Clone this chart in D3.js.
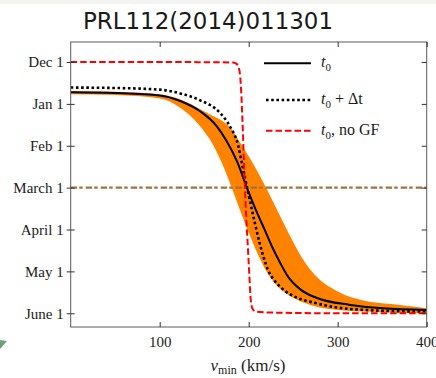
<!DOCTYPE html>
<html lang="en">
<head>
  <meta charset="UTF-8" />
  <title>PRL112(2014)011301</title>
  <script src="https://d3js.org/d3.v7.min.js"></script>
  <style>
    html, body {
      margin: 0;
      padding: 0;
      background: white;
    }
    svg {
      display: block;
    }
    .tick text {
      font-family: 'Liberation Serif', 'Times New Roman', serif;
      font-size: 15px;
      fill: #1c1c1c;
    }
    .domain {
      display: none;
    }
  </style>
</head>
<body>
  <svg id="chart" width="436" height="378"></svg>
  <script>
    // month ticks on the y axis (index 0 = Dec 1 ... 6 = June 1)
    const monthLabels = ['Dec 1', 'Jan 1', 'Feb 1', 'March 1', 'April 1', 'May 1', 'June 1'];
    const xTicks = [100, 200, 300, 400];
    const marchIndex = 3;

    // t0 (solid black)
    const t0V = [0, 50, 100, 123, 145, 164, 175, 187, 199, 208, 218, 226, 235, 244, 258, 276, 314, 351, 400];
    const t0M = [0.72, 0.74, 0.80, 0.93, 1.17, 1.53, 1.88, 2.38, 3.06, 3.53, 4.01, 4.40, 4.78, 5.12, 5.43, 5.63, 5.80, 5.88, 5.92];

    // t0 + dt (dotted black)
    const dtV = [0, 50, 100, 123, 145, 168, 179, 188, 193, 200, 207, 212, 217, 222, 229, 237, 258, 274, 295, 351, 400];
    const dtM = [0.61, 0.62, 0.66, 0.75, 0.91, 1.22, 1.54, 1.98, 2.48, 3.18, 3.85, 4.30, 4.68, 4.98, 5.22, 5.40, 5.66, 5.75, 5.85, 5.94, 5.96];

    // t0, no GF (red dashed)
    const noGfV = [0, 100, 182, 186, 189, 191, 193, 195, 197, 199, 200.5, 202, 204, 208, 220, 300, 400];
    const noGfM = [0.0, 0.0, 0.01, 0.04, 0.15, 0.5, 1.4, 2.6, 3.6, 4.4, 5.0, 5.6, 5.88, 5.96, 5.98, 6.0, 6.0];

    // orange band
    const bandV  = [0, 50, 100, 125, 145, 160, 170, 180, 190, 200, 210, 220, 230, 240, 250, 260, 275, 300, 330, 360, 400];
    const bandHi = [0.69, 0.71, 0.77, 0.91, 1.12, 1.29, 1.40, 1.58, 1.91, 2.25, 2.62, 3.02, 3.45, 3.88, 4.30, 4.68, 5.10, 5.48, 5.70, 5.78, 5.88];
    const bandLo = [0.77, 0.79, 0.87, 1.12, 1.52, 1.98, 2.42, 2.95, 3.52, 4.07, 4.58, 5.00, 5.30, 5.50, 5.63, 5.73, 5.84, 5.92, 5.96, 5.98, 6.0];

    const legendLabels = [
      { rest: '', style: 'solid' },
      { rest: ' + \u0394t', style: 'dotted' },
      { rest: ', no GF', style: 'dashed' }
    ];

    const svg = d3.select('#chart');
    const margin = { left: 70.7, right: 426.7, top: 42, bottom: 327 };

    const x = d3.scaleLinear().domain([0, 400]).range([margin.left, margin.right]);
    const y = d3.scaleLinear().domain([-0.478, 6.328]).range([margin.top, margin.bottom]);

    // faint strip at the very top + corner mark
    svg.append('rect').attr('x', 0).attr('y', 0).attr('width', 436).attr('height', 4).attr('fill', '#f3f3f1');
    svg.append('path').attr('d', 'M0,340 L7,341 L0,349 Z').attr('fill', '#6d9f78');

    // title
    svg.append('text')
      .attr('x', 208)
      .attr('y', 29)
      .attr('text-anchor', 'middle')
      .attr('font-family', "'DejaVu Sans', sans-serif")
      .attr('font-size', '23px')
      .attr('textLength', 250)
      .attr('lengthAdjust', 'spacingAndGlyphs')
      .attr('fill', '#1a1a1a')
      .text('PRL112(2014)011301');

    svg.append('clipPath').attr('id', 'plot')
      .append('rect')
      .attr('x', margin.left).attr('y', margin.top)
      .attr('width', margin.right - margin.left).attr('height', margin.bottom - margin.top);

    const plot = svg.append('g').attr('clip-path', 'url(#plot)');

    const band = d3.area()
      .x((d, i) => x(bandV[i]))
      .y0((d, i) => y(bandLo[i]))
      .y1((d, i) => y(bandHi[i]))
      .curve(d3.curveMonotoneX);

    plot.append('path')
      .attr('d', band(bandV))
      .attr('fill', '#ff8300');

    plot.append('line')
      .attr('x1', margin.left).attr('x2', margin.right)
      .attr('y1', y(marchIndex)).attr('y2', y(marchIndex))
      .attr('stroke', '#a3733f')
      .attr('stroke-width', 2.4)
      .attr('stroke-dasharray', '6.5,2,3.5,3');

    const line = d3.line()
      .x(d => x(d[0]))
      .y(d => y(d[1]))
      .curve(d3.curveMonotoneX);

    const zip = (a, b) => a.map((v, i) => [v, b[i]]);

    plot.append('path')
      .attr('d', line(zip(t0V, t0M)))
      .attr('fill', 'none')
      .attr('stroke', '#000')
      .attr('stroke-width', 2);

    plot.append('path')
      .attr('d', line(zip(dtV, dtM)))
      .attr('fill', 'none')
      .attr('stroke', '#000')
      .attr('stroke-width', 2.6)
      .attr('stroke-dasharray', '2.6,2.6');

    plot.append('path')
      .attr('d', line(zip(noGfV, noGfM)))
      .attr('fill', 'none')
      .attr('stroke', '#ff0000')
      .attr('stroke-width', 2)
      .attr('stroke-dasharray', '6.5,3');

    // frame
    svg.append('rect')
      .attr('x', margin.left).attr('y', margin.top)
      .attr('width', margin.right - margin.left).attr('height', margin.bottom - margin.top)
      .attr('fill', 'none')
      .attr('stroke', '#5a5a5a')
      .attr('stroke-width', 1);

    const monthIdx = d3.range(monthLabels.length);

    // left axis, ticks crossing the frame
    svg.append('g')
      .attr('transform', `translate(${margin.left},0)`)
      .call(d3.axisLeft(y).tickValues(monthIdx).tickFormat(i => monthLabels[i]).tickSize(4).tickPadding(3))
      .call(g => g.selectAll('.tick line').attr('stroke', '#333'));
    svg.append('g')
      .attr('transform', `translate(${margin.left},0)`)
      .call(d3.axisRight(y).tickValues(monthIdx).tickFormat('').tickSize(4))
      .call(g => g.selectAll('.tick line').attr('stroke', '#333'));

    // right axis ticks inward
    svg.append('g')
      .attr('transform', `translate(${margin.right},0)`)
      .call(d3.axisLeft(y).tickValues(monthIdx).tickFormat('').tickSize(5))
      .call(g => g.selectAll('.tick line').attr('stroke', '#333'));

    // bottom axis, ticks inward
    svg.append('g')
      .attr('transform', `translate(0,${margin.bottom})`)
      .call(d3.axisTop(x).tickValues(xTicks).tickFormat('').tickSize(5))
      .call(g => g.selectAll('.tick line').attr('stroke', '#333'));
    svg.append('g')
      .attr('transform', `translate(0,${margin.bottom})`)
      .call(d3.axisBottom(x).tickValues(xTicks).tickFormat(d3.format('d')).tickSize(0).tickPadding(9));

    // top axis, ticks inward
    svg.append('g')
      .attr('transform', `translate(0,${margin.top})`)
      .call(d3.axisBottom(x).tickValues(xTicks).tickFormat('').tickSize(5))
      .call(g => g.selectAll('.tick line').attr('stroke', '#333'));

    // x label
    const xl = svg.append('text')
      .attr('x', 248)
      .attr('y', 371)
      .attr('text-anchor', 'middle')
      .attr('font-family', "'Liberation Serif', serif")
      .attr('font-size', '17px')
      .attr('fill', '#1c1c1c');
    xl.append('tspan').attr('font-style', 'italic').text('v');
    xl.append('tspan').attr('font-size', '12px').attr('dy', 3).text('min');
    xl.append('tspan').attr('dy', -3).text(' (km/s)');

    // legend
    const legend = svg.append('g');
    const legendY = [63.3, 100, 130.7];
    legendLabels.forEach((d, i) => {
      const ly = legendY[i];
      const ln = legend.append('line')
        .attr('x1', d.style === 'solid' ? 264 : 266).attr('x2', 311)
        .attr('y1', ly).attr('y2', ly);
      if (d.style === 'solid') ln.attr('stroke', '#000').attr('stroke-width', 2);
      if (d.style === 'dotted') ln.attr('stroke', '#000').attr('stroke-width', 2.6).attr('stroke-dasharray', '2.6,2.6');
      if (d.style === 'dashed') ln.attr('stroke', '#ff0000').attr('stroke-width', 2).attr('stroke-dasharray', '6.5,3');

      const t = legend.append('text')
        .attr('x', 321)
        .attr('y', ly + 4)
        .attr('font-family', "'Liberation Serif', serif")
        .attr('font-size', '16px')
        .attr('fill', '#1c1c1c');
      t.append('tspan').attr('font-style', 'italic').text('t');
      t.append('tspan').attr('font-size', '11px').attr('dy', 4).text('0');
      if (d.rest) t.append('tspan').attr('dy', -4).text(d.rest);
    });
  </script>
</body>
</html>
